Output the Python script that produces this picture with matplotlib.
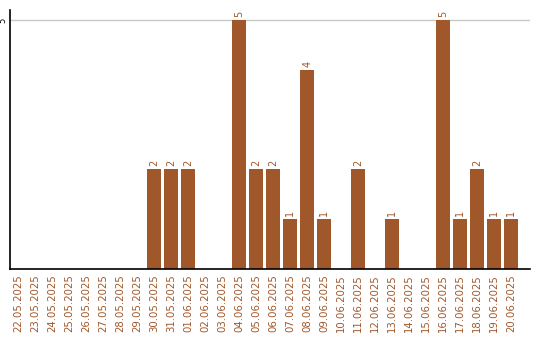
import matplotlib.pyplot as plt
import numpy as np

dates = ['22.05.2025', '23.05.2025', '24.05.2025', '25.05.2025', '26.05.2025',
         '27.05.2025', '28.05.2025', '29.05.2025', '30.05.2025', '31.05.2025',
         '01.06.2025', '02.06.2025', '03.06.2025', '04.06.2025', '05.06.2025',
         '06.06.2025', '07.06.2025', '08.06.2025', '09.06.2025', '10.06.2025',
         '11.06.2025', '12.06.2025', '13.06.2025', '14.06.2025', '15.06.2025',
         '16.06.2025', '17.06.2025', '18.06.2025', '19.06.2025', '20.06.2025']
counts = [0, 0, 0, 0, 0, 0, 0, 0, 2, 2,
          2, 0, 0, 5, 2, 2, 1, 4, 1, 0,
          2, 0, 1, 0, 0, 5, 1, 2, 1, 1]

brown = '#A0572A'

fig = plt.figure(figsize=(5.4, 3.4), dpi=100)
ax = fig.add_axes([10/540, 1-269/340, 520/540, 259/340])

x = np.arange(len(dates))
bars = ax.bar(x, counts, width=0.82, color=brown, zorder=2)

for xi, v in zip(x, counts):
    if v > 0:
        ax.text(xi, v + 0.06, str(v), rotation=90, ha='center', va='bottom',
                fontsize=7, color=brown)

ax.set_xlim(-0.5, 30.1)
ax.set_ylim(0, 5.2)
ax.set_yticks([5])
ax.set_yticklabels(['5'], rotation=90, va='center', ha='center', fontsize=6)
ax.yaxis.grid(True, color='#c8c8c8', linewidth=1, zorder=0)
ax.set_xticks(x)
ax.set_xticklabels(dates, rotation=90, fontsize=7.3, color=brown)
ax.tick_params(axis='x', length=0, pad=4)
ax.tick_params(axis='y', length=0, pad=5)

for s in ['top', 'right']:
    ax.spines[s].set_visible(False)
ax.spines['left'].set_linewidth(1.2)
ax.spines['bottom'].set_linewidth(1.2)

fig.savefig('out.png', dpi=100)
